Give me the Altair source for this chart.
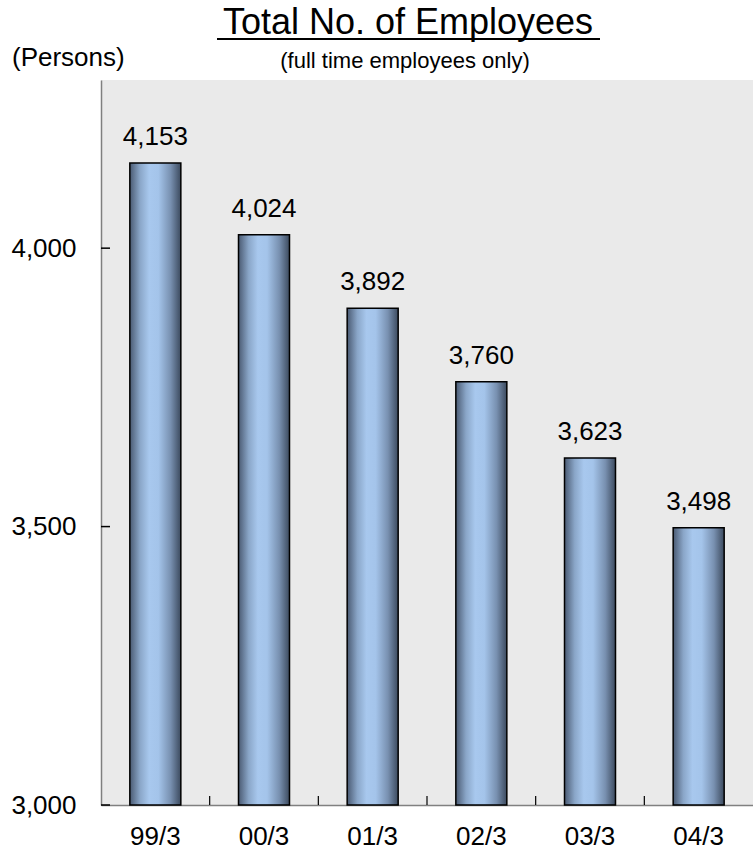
import altair as alt
import pandas as pd

# Fiscal year-ends and full-time headcount
periods = ["99/3", "00/3", "01/3", "02/3", "03/3", "04/3"]
employees = [4153, 4024, 3892, 3760, 3623, 3498]
y_ticks = [3000, 3500, 4000]

title_text = "Total No. of Employees"
subtitle_text = "(full time employees only)"
unit_text = "(Persons)"

FONT = "Liberation Sans"
W, H = 652, 725

df = pd.DataFrame({"period": periods, "employees": employees})

x_enc = alt.X(
    "period:N",
    scale=alt.Scale(domain=periods, paddingInner=0, paddingOuter=0),
    axis=alt.Axis(
        title=None, labelAngle=0, ticks=False, domainColor="#808080",
        domainWidth=1.5, labelFontSize=26, labelPadding=18, labelColor="black",
        labelFont=FONT,
    ),
)
y_scale = alt.Scale(domain=[3000, 4302], nice=False, zero=False)
y_enc = alt.Y(
    "employees:Q",
    scale=y_scale,
    axis=alt.Axis(
        title=None, values=y_ticks, format=",.0f", ticks=False, grid=False,
        domainColor="#808080", domainWidth=1.5, labelFontSize=26,
        labelPadding=25, labelColor="black", labelFont=FONT,
    ),
)

bar_fill = alt.Gradient(
    gradient="linear",
    x1=0, x2=1, y1=0, y2=0,
    stops=[
        alt.GradientStop(color="#4a5a72", offset=0),
        alt.GradientStop(color="#8aa6c8", offset=0.2),
        alt.GradientStop(color="#a8c8ee", offset=0.38),
        alt.GradientStop(color="#a4c4ea", offset=0.56),
        alt.GradientStop(color="#7890b0", offset=0.8),
        alt.GradientStop(color="#3c4a5e", offset=1),
    ],
)

bars = alt.Chart(df).mark_bar(
    size=51, color=bar_fill, stroke="black", strokeWidth=1.5
).encode(x=x_enc, y=y_enc, y2=alt.datum(3000))

labels = alt.Chart(df).mark_text(
    baseline="alphabetic", dy=-18, fontSize=26, font=FONT, color="black"
).encode(
    x=alt.X("period:N", scale=alt.Scale(domain=periods)),
    y=alt.Y("employees:Q", scale=y_scale),
    text=alt.Text("employees:Q", format=",.0f"),
)

# inward tick marks on the value axis
ytick_df = pd.DataFrame({"employees": y_ticks})
yticks = alt.Chart(ytick_df).mark_rule(color="black", strokeWidth=1.5).encode(
    y=alt.Y("employees:Q", scale=y_scale),
    x=alt.value(0), x2=alt.value(9),
)

# inward tick marks between categories
xtick_df = pd.DataFrame({"period": periods[1:]})
xticks = alt.Chart(xtick_df).mark_rule(color="black", strokeWidth=1.2).encode(
    x=alt.X("period:N", scale=alt.Scale(domain=periods), bandPosition=0),
    y=alt.value(H - 9), y2=alt.value(H),
)

title = alt.Chart(pd.DataFrame({"t": [title_text]})).mark_text(
    fontSize=36, font=FONT, color="black", align="center", baseline="alphabetic"
).encode(text="t:N", x=alt.value(307), y=alt.value(-46))

underline = alt.Chart(pd.DataFrame({"t": [title_text]})).mark_rule(
    color="black", strokeWidth=2
).encode(x=alt.value(116), x2=alt.value(499), y=alt.value(-41))

subtitle = alt.Chart(pd.DataFrame({"t": [subtitle_text]})).mark_text(
    fontSize=22, font=FONT, color="black", align="center", baseline="alphabetic"
).encode(text="t:N", x=alt.value(304), y=alt.value(-12))

unit = alt.Chart(pd.DataFrame({"t": [unit_text]})).mark_text(
    fontSize=26, font=FONT, color="black", align="left", baseline="alphabetic"
).encode(text="t:N", x=alt.value(-89), y=alt.value(-14))

chart = alt.layer(
    bars, labels, yticks, xticks, title, underline, subtitle, unit
).properties(
    width=W, height=H,
    autosize=alt.AutoSizeParams(type="none"),
    padding={"left": 101, "top": 80, "right": 0, "bottom": 56},
    background="white",
).configure_view(
    fill="#eaeaea", stroke=None
)

chart.save("out.html", embed_options={"renderer": "svg", "actions": False})
